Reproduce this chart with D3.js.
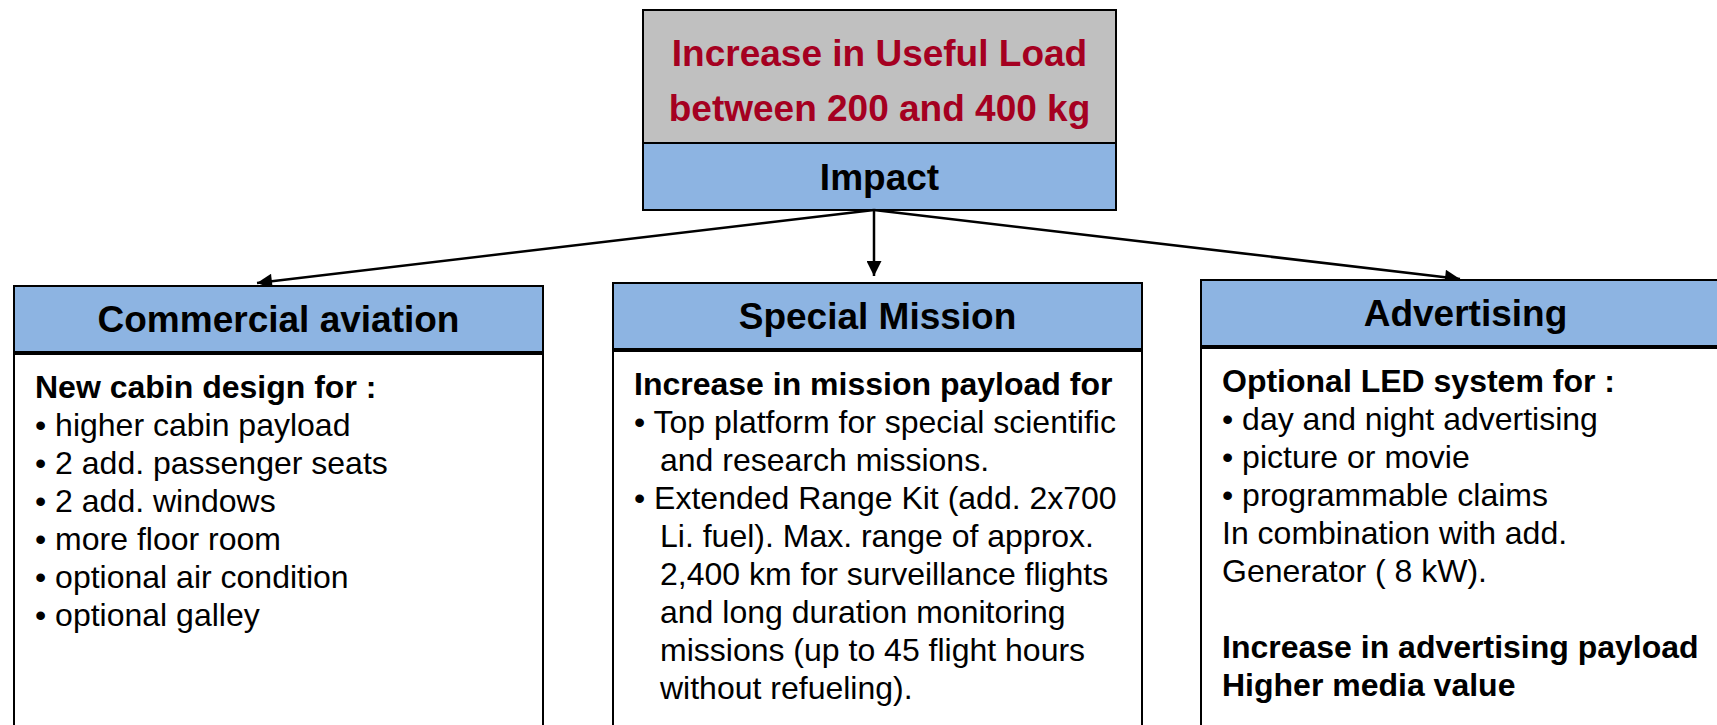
<!DOCTYPE html>
<html>
<head>
<meta charset="utf-8">
<script src="https://cdn.jsdelivr.net/npm/d3@7"></script>
<style>
  body { margin: 0; background: #fff; }
  svg { display: block; font-family: Arial, "Liberation Sans", sans-serif; }
</style>
</head>
<body>
<svg id="chart"></svg>
<script>
const width = 1717,
  height = 725;

// diagram content
const titleLines = ["Increase in Useful Load", "between 200 and 400 kg"];
const impactLabel = "Impact";
const categories = ["Commercial aviation", "Special Mission", "Advertising"];

// each line: text, bold flag, indented continuation flag
const commercialLines = [
  { t: "New cabin design for :", b: true },
  { t: "• higher cabin payload" },
  { t: "• 2 add. passenger seats" },
  { t: "• 2 add. windows" },
  { t: "• more floor room" },
  { t: "• optional air condition" },
  { t: "• optional galley" },
];
const missionLines = [
  { t: "Increase in mission payload for", b: true },
  { t: "• Top platform for special scientific" },
  { t: "and research missions.", i: true },
  { t: "• Extended Range Kit (add. 2x700" },
  { t: "Li. fuel). Max. range of approx.", i: true },
  { t: "2,400 km for surveillance flights", i: true },
  { t: "and long duration monitoring", i: true },
  { t: "missions (up to 45 flight hours", i: true },
  { t: "without refueling).", i: true },
];
const advertisingLines = [
  { t: "Optional LED system for :", b: true },
  { t: "• day and night advertising" },
  { t: "• picture or movie" },
  { t: "• programmable claims" },
  { t: "In combination with add." },
  { t: "Generator ( 8 kW)." },
  { t: "" },
  { t: "Increase in advertising payload", b: true },
  { t: "Higher media value", b: true },
];
const bodyLines = [commercialLines, missionLines, advertisingLines];

// layout
const colLeft = [14, 613, 1201],
  colTop = [286, 283, 280],
  boxW = 529,
  headH = 66,
  headFont = 37,
  fontSize = 32,
  lineGap = 38;

const svg = d3
  .select("#chart")
  .attr("width", width)
  .attr("height", height);

svg
  .append("defs")
  .append("marker")
  .attr("id", "head")
  .attr("viewBox", "0 0 10 10")
  .attr("refX", 10)
  .attr("refY", 5)
  .attr("markerWidth", 8)
  .attr("markerHeight", 6)
  .attr("markerUnits", "strokeWidth")
  .attr("orient", "auto")
  .append("path")
  .attr("d", "M0,0L10,5L0,10Z")
  .attr("fill", "#000");

// top box
const topBox = { x: 643, y: 10, w: 473, h: 133 };
svg
  .append("rect")
  .attr("x", topBox.x)
  .attr("y", topBox.y)
  .attr("width", topBox.w)
  .attr("height", topBox.h)
  .attr("fill", "#c0c0c0")
  .attr("stroke", "#000")
  .attr("stroke-width", 2);

svg
  .selectAll(".title")
  .data(titleLines)
  .join("text")
  .attr("class", "title")
  .attr("x", topBox.x + topBox.w / 2)
  .attr("y", (d, i) => 66 + i * 55)
  .attr("text-anchor", "middle")
  .attr("font-size", headFont)
  .attr("font-weight", "bold")
  .attr("fill", "#a50021")
  .text((d) => d);

svg
  .append("rect")
  .attr("x", topBox.x)
  .attr("y", topBox.y + topBox.h)
  .attr("width", topBox.w)
  .attr("height", 67)
  .attr("fill", "#8db4e2")
  .attr("stroke", "#000")
  .attr("stroke-width", 2);

svg
  .append("text")
  .attr("x", topBox.x + topBox.w / 2)
  .attr("y", 190)
  .attr("text-anchor", "middle")
  .attr("font-size", headFont)
  .attr("font-weight", "bold")
  .text(impactLabel);

// arrows
const origin = [874, 210];
const tips = [
  [257, 283],
  [874, 276],
  [1460, 279],
];
svg
  .selectAll(".arrow")
  .data(tips)
  .join("line")
  .attr("class", "arrow")
  .attr("x1", origin[0])
  .attr("y1", origin[1])
  .attr("x2", (d) => d[0])
  .attr("y2", (d) => d[1])
  .attr("stroke", "#000")
  .attr("stroke-width", 2.5)
  .attr("marker-end", "url(#head)");

// category boxes
const box = svg
  .selectAll(".box")
  .data(categories)
  .join("g")
  .attr("class", "box")
  .attr("transform", (d, i) => `translate(${colLeft[i]},${colTop[i]})`);

box
  .append("rect")
  .attr("y", headH + 2)
  .attr("width", boxW)
  .attr("height", 500)
  .attr("fill", "#fff")
  .attr("stroke", "#000")
  .attr("stroke-width", 2);

box
  .append("rect")
  .attr("width", boxW)
  .attr("height", headH)
  .attr("fill", "#8db4e2")
  .attr("stroke", "#000")
  .attr("stroke-width", 2);

box
  .append("text")
  .attr("x", boxW / 2)
  .attr("y", headH / 2 + 13)
  .attr("text-anchor", "middle")
  .attr("font-size", headFont)
  .attr("font-weight", "bold")
  .text((d) => d);

box.each(function (d, i) {
  d3.select(this)
    .selectAll(".line")
    .data(bodyLines[i])
    .join("text")
    .attr("class", "line")
    .attr("x", (l) => (l.i ? 47 : 21))
    .attr("y", (l, k) => headH + 2 + 33 + 11 + k * lineGap)
    .attr("font-size", fontSize)
    .attr("font-weight", (l) => (l.b ? "bold" : "normal"))
    .attr("fill", "#000")
    .text((l) => l.t);
});
</script>
</body>
</html>
